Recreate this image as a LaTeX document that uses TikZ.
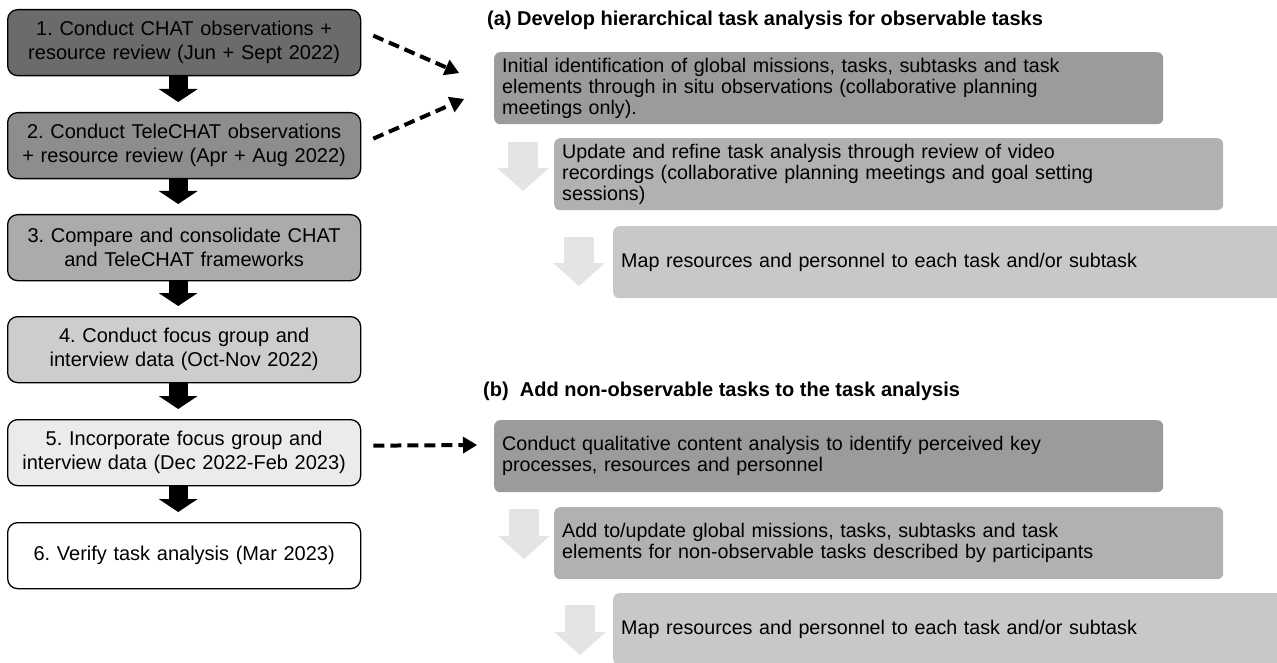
\documentclass[tikz,border=0pt]{standalone}
\usepackage{fontspec}
\setmainfont{Liberation Sans}
\usetikzlibrary{arrows.meta}
\usetikzlibrary{calc}
\frenchspacing

\definecolor{grayA}{HTML}{6B6B6B}
\definecolor{grayB}{HTML}{8D8D8D}
\definecolor{grayC}{HTML}{ABABAB}
\definecolor{grayD}{HTML}{CDCDCD}
\definecolor{grayE}{HTML}{EBEBEB}
\definecolor{taskA}{HTML}{9B9B9B}
\definecolor{taskB}{HTML}{B1B1B1}
\definecolor{taskC}{HTML}{C8C8C8}
\definecolor{pale}{HTML}{E4E4E4}

\tikzset{
  stepbox/.style={draw, line width=1.3pt, rounded corners=10pt, minimum width=353pt,
    minimum height=66pt, text width=345pt, inner xsep=4pt, align=center,
    font=\fontsize{20}{24}\selectfont, anchor=north west},
  taskbox/.style={rounded corners=6pt, minimum height=72pt, text width=653pt,
    inner xsep=8pt, align=left, font=\fontsize{19.7}{21}\selectfont, anchor=north west},
  heading/.style={font=\bfseries\fontsize{20}{24}\selectfont, anchor=west, inner sep=0pt},
  blockarrow/.style={line width=19pt, shorten >=10pt,
    -{Triangle[width=39pt,length=13pt,line width=0pt]}},
  palearrow/.style={pale, line width=30pt,
    -{Triangle[width=52pt,length=23pt,line width=0pt]}},
  dasharrow/.style={line width=4pt, dash pattern=on 11pt off 6pt,
    -{Triangle[width=17pt,length=14pt,line width=0pt]}}
}

\begin{document}
\begin{tikzpicture}[x=1pt,y=-1pt]
\useasboundingbox (0,0) rectangle (1277,663);

% steps
\node[stepbox, fill=grayA] (s1) at (7,9) {1. Conduct CHAT observations +\\resource review (Jun + Sept 2022)};
\node[stepbox, fill=grayB] (s2) at (7,112) {2. Conduct TeleCHAT observations\\+ resource review (Apr + Aug 2022)};
\node[stepbox, fill=grayC] (s3) at (7,214) {3. Compare and consolidate CHAT\\and TeleCHAT frameworks};
\node[stepbox, fill=grayD] (s4) at (7,316) {4. Conduct focus group and\\interview data (Oct-Nov 2022)};
\node[stepbox, fill=grayE] (s5) at (7,419) {5. Incorporate focus group and\\interview data (Dec 2022-Feb 2023)};
\node[stepbox, fill=white] (s6) at (7,522) {6. Verify task analysis (Mar 2023)};

\draw[blockarrow] ([xshift=-6pt]s1.south) -- ([xshift=-6pt]s2.north);
\draw[blockarrow] ([xshift=-6pt]s2.south) -- ([xshift=-6pt]s3.north);
\draw[blockarrow] ([xshift=-6pt]s3.south) -- ([xshift=-6pt]s4.north);
\draw[blockarrow] ([xshift=-6pt]s4.south) -- ([xshift=-6pt]s5.north);
\draw[blockarrow] ([xshift=-6pt]s5.south) -- ([xshift=-6pt]s6.north);

% (a)
\node[heading] (ha) at (487,20) {(a) Develop hierarchical task analysis for observable tasks};
\node[taskbox, fill=taskA] (a1) at (494,52) {Initial identification of global missions, tasks, subtasks and task\\elements through in situ observations (collaborative planning\\meetings only).};
\node[taskbox, fill=taskB] (a2) at (554,138) {Update and refine task analysis through review of video\\recordings (collaborative planning meetings and goal setting\\sessions)};
\node[taskbox, fill=taskC, text width=660pt] (a3) at (613,226) {Map resources and personnel to each task and/or subtask};

\draw[palearrow] ($(a2.north west)+(-31,4)$) -- ($(a2.north west)+(-31,53)$);
\draw[palearrow] ($(a3.north west)+(-34,11)$) -- ($(a3.north west)+(-34,60)$);

% (b)
\node[heading] (hb) at (483,391) {(b)~~Add non-observable tasks to the task analysis};
\node[taskbox, fill=taskA] (b1) at (494,420) {Conduct qualitative content analysis to identify perceived key\\processes, resources and personnel};
\node[taskbox, fill=taskB] (b2) at (554,507) {Add to/update global missions, tasks, subtasks and task\\elements for non-observable tasks described by participants};
\node[taskbox, fill=taskC, text width=660pt] (b3) at (613,593) {Map resources and personnel to each task and/or subtask};

\draw[palearrow] ($(b2.north west)+(-30,2)$) -- ($(b2.north west)+(-30,52)$);
\draw[palearrow] ($(b3.north west)+(-33,12)$) -- ($(b3.north west)+(-33,62)$);

% links
\coordinate (ta) at (459,73);
\coordinate (tb) at (464,99);
\coordinate (tc) at (477,445);
\draw[dasharrow] ([xshift=12pt,yshift=7pt]s1.east) -- (ta);
\draw[dasharrow] ([xshift=12pt,yshift=7pt]s2.east) -- (tb);
\draw[dasharrow] ([xshift=12pt,yshift=7pt]s5.east) -- (tc);
\end{tikzpicture}
\end{document}
